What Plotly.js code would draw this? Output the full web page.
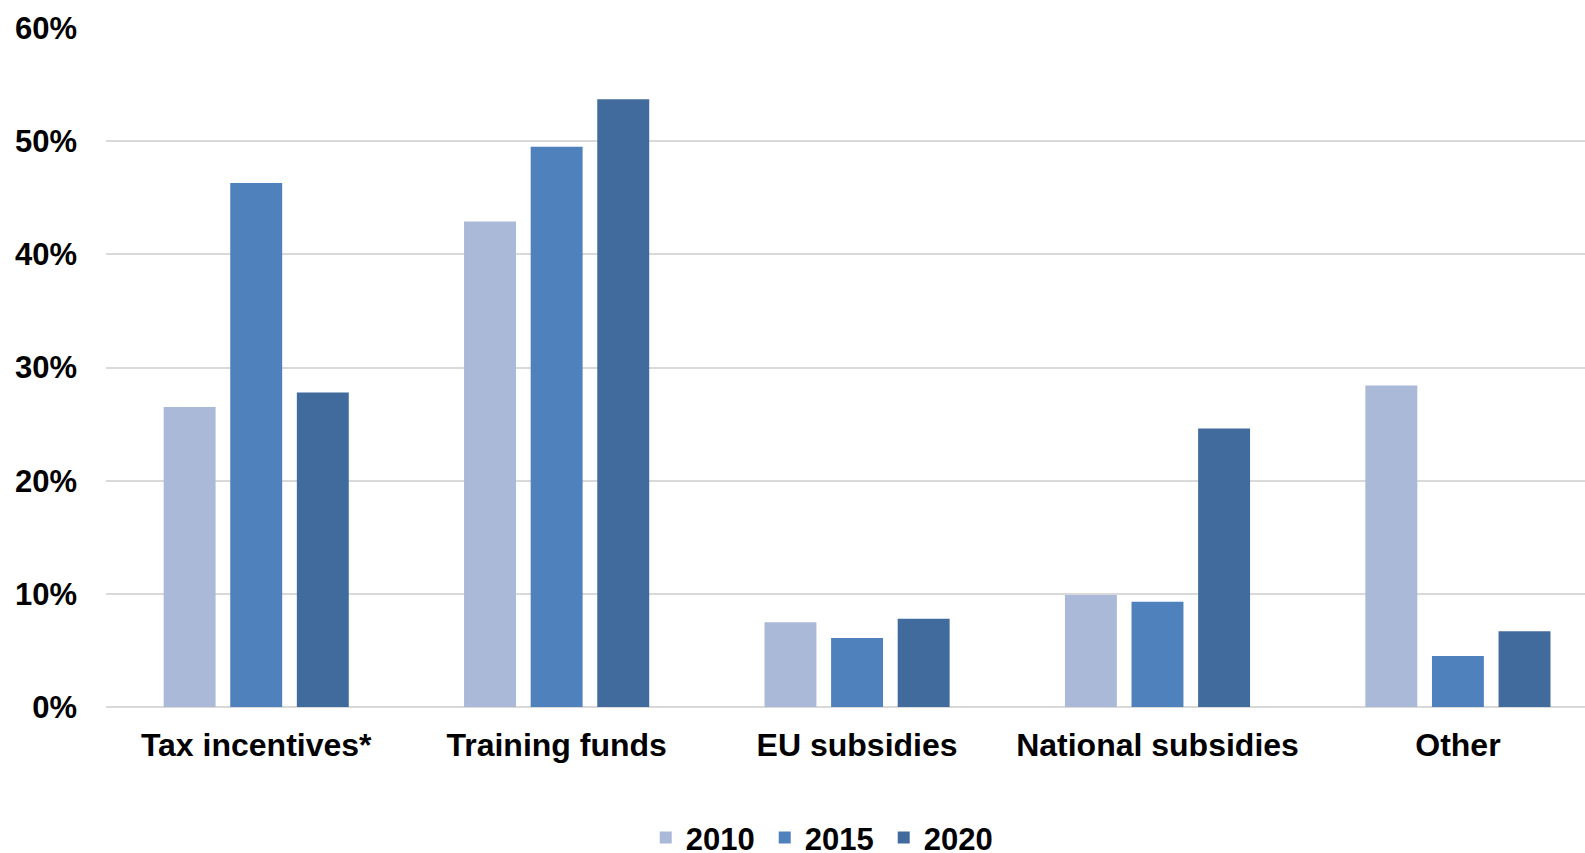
<!DOCTYPE html>
<html>
<head>
<meta charset="utf-8">
<script src="https://cdn.plot.ly/plotly-3.0.1.min.js"></script>
<style>html,body{margin:0;padding:0;background:#fff;}#chart{width:1585px;height:853px;}</style>
</head>
<body>
<div id="chart"></div>
<script>
const categories = ["Tax incentives*", "Training funds", "EU subsidies", "National subsidies", "Other"];
const years = ["2010", "2015", "2020"];
const values2010 = [26.5, 42.9, 7.5, 9.9, 28.4];
const values2015 = [46.3, 49.5, 6.1, 9.3, 4.5];
const values2020 = [27.8, 53.7, 7.8, 24.6, 6.7];
const colors = ["#AAB9D7", "#4F81BD", "#406B9C"];
const yTickVals = [0, 10, 20, 30, 40, 50, 60];

const series = [values2010, values2015, values2020];
const font = {family: "Liberation Sans, Arial, sans-serif", size: 31, color: "#000", weight: "bold"};
const catFont = {family: "Liberation Sans, Arial, sans-serif", size: 32, color: "#000", weight: "bold"};

const traces = series.map((vals, i) => ({
  type: "bar",
  name: years[i],
  x: categories,
  y: vals,
  marker: {color: colors[i], line: {width: 0}},
  hoverinfo: "none"
}));

const layout = {
  width: 1585,
  height: 853,
  margin: {l: 106, r: 0, t: 28, b: 146},
  paper_bgcolor: "#fff",
  plot_bgcolor: "#fff",
  font: font,
  barmode: "group",
  bargap: 0.335,
  bargroupgap: 0.22,
  showlegend: true,
  legend: {
    orientation: "h",
    xref: "container",
    yref: "container",
    x: 0.4074,
    xanchor: "left",
    y: 0.0177,
    yanchor: "middle",
    font: font,
    entrywidth: 74,
    entrywidthmode: "pixels",
    traceorder: "normal"
  },
  xaxis: {
    type: "category",
    range: [-0.5, 4.423],
    showgrid: false,
    zeroline: false,
    showline: false,
    ticks: "",
    tickfont: catFont,
    ticklabelstandoff: 16
  },
  yaxis: {
    range: [0, 60],
    tickvals: yTickVals,
    ticktext: yTickVals.map(v => v + "%"),
    showgrid: true,
    gridcolor: "#D9D9D9",
    gridwidth: 2,
    zeroline: true,
    zerolinecolor: "#D9D9D9",
    zerolinewidth: 2,
    showline: false,
    ticks: "",
    tickfont: font,
    ticklabelstandoff: 28
  }
};

Plotly.newPlot("chart", traces, layout, {displayModeBar: false, staticPlot: true});
</script>
</body>
</html>
